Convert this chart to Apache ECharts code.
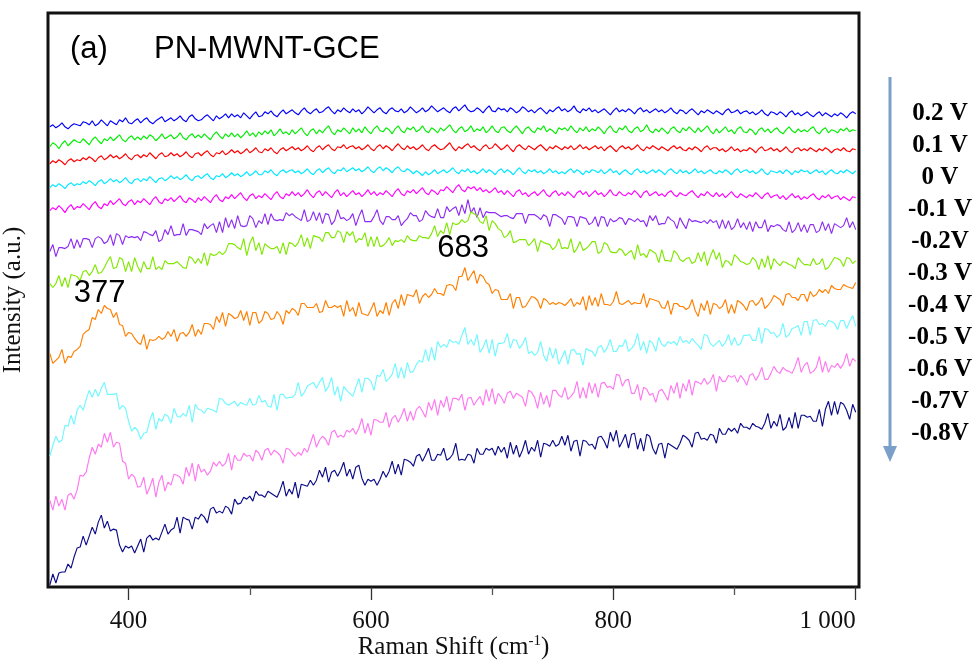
<!DOCTYPE html>
<html><head><meta charset="utf-8">
<script src="https://cdn.jsdelivr.net/npm/echarts@6/dist/echarts.min.js"></script>
<style>html,body{margin:0;padding:0;background:#fff}#c{width:977px;height:662px}</style>
</head><body><div id="c"></div>
<script>
// Raman shift (cm-1)
const ramanShift = [335,337.5,340,342.5,345,347.5,350,352.5,355,357.5,360,362.5,365,367.5,370,372.5,375,377.5,380,382.5,
385,387.5,390,392.5,395,397.5,400,402.5,405,407.5,410,412.5,415,417.5,420,422.5,425,427.5,430,432.5,
435,437.5,440,442.5,445,447.5,450,452.5,455,457.5,460,462.5,465,467.5,470,472.5,475,477.5,480,482.5,
485,487.5,490,492.5,495,497.5,500,502.5,505,507.5,510,512.5,515,517.5,520,522.5,525,527.5,530,532.5,
535,537.5,540,542.5,545,547.5,550,552.5,555,557.5,560,562.5,565,567.5,570,572.5,575,577.5,580,582.5,
585,587.5,590,592.5,595,597.5,600,602.5,605,607.5,610,612.5,615,617.5,620,622.5,625,627.5,630,632.5,
635,637.5,640,642.5,645,647.5,650,652.5,655,657.5,660,662.5,665,667.5,670,672.5,675,677.5,680,682.5,
685,687.5,690,692.5,695,697.5,700,702.5,705,707.5,710,712.5,715,717.5,720,722.5,725,727.5,730,732.5,
735,737.5,740,742.5,745,747.5,750,752.5,755,757.5,760,762.5,765,767.5,770,772.5,775,777.5,780,782.5,
785,787.5,790,792.5,795,797.5,800,802.5,805,807.5,810,812.5,815,817.5,820,822.5,825,827.5,830,832.5,
835,837.5,840,842.5,845,847.5,850,852.5,855,857.5,860,862.5,865,867.5,870,872.5,875,877.5,880,882.5,
885,887.5,890,892.5,895,897.5,900,902.5,905,907.5,910,912.5,915,917.5,920,922.5,925,927.5,930,932.5,
935,937.5,940,942.5,945,947.5,950,952.5,955,957.5,960,962.5,965,967.5,970,972.5,975,977.5,980,982.5,
985,987.5,990,992.5,995,997.5,1000];

// Intensities (a.u., with the stacking offsets of the figure)
const i_p02 = [461,463,460,462,465,461,459,462,464,463, 462,466,465,463,467,462,464,468,465,462,
467,465,463,468,466,470,465,464,467,469, 465,468,470,466,464,467,469,471,466,468,
470,467,469,472,468,466,471,473,469,467, 468,471,473,470,467,472,469,471,474,470,
474,471,473,470,475,472,469,473,476,471, 472,476,474,477,473,471,475,478,474,476,
478,475,473,477,480,476,474,477,479,475, 476,479,481,477,474,478,476,480,477,475,
479,476,478,474,477,481,478,475,478,480, 476,474,478,480,477,476,479,475,477,481,
478,475,477,480,476,478,482,479,476,478, 480,477,475,479,481,477,480,483,478,476,
477,480,478,475,479,482,477,476,480,478, 479,476,480,478,475,477,481,479,476,478,
475,478,480,477,474,478,476,479,481,477, 479,476,478,482,477,475,479,477,480,476,
478,475,477,479,476,473,477,480,476,478, 476,479,477,474,478,480,476,478,475,477,
479,476,478,475,477,480,476,474,478,477, 474,477,479,476,473,477,475,478,476,474,
477,475,473,477,479,475,476,478,474,476, 477,474,476,473,475,478,474,472,476,475,
473,476,474,471,475,477,473,475,472,474, 476,473,471,474,476,472,475,473,471,474,
472,475,473,470,474,476,474];
const i_p01 = [441,445,443,439,444,447,442,445,448,446, 445,449,446,443,448,451,447,444,449,447,
451,447,450,453,448,446,450,452,448,451, 448,452,449,453,451,447,450,454,449,451,
453,449,451,455,450,448,452,454,450,453, 450,454,451,448,453,456,452,449,454,451,
455,451,454,450,453,457,452,455,451,456, 453,457,454,458,452,455,459,454,456,453,
458,454,457,460,455,452,457,459,454,458, 455,459,462,456,453,458,456,460,457,454,
460,456,459,455,461,457,454,459,462,457, 456,460,458,454,459,462,457,455,460,458,
461,456,458,462,457,455,460,458,455,460, 457,460,463,458,455,459,461,456,458,462,
456,459,457,461,455,458,462,457,455,460, 461,457,455,459,462,458,454,459,461,457,
455,460,458,462,456,459,457,454,460,458, 460,457,462,458,455,460,457,461,456,459,
457,461,458,454,459,462,457,455,460,458, 462,457,455,459,461,456,458,463,457,455,
459,456,460,457,454,459,461,457,455,460, 457,461,458,455,460,456,459,462,457,454,
459,455,458,461,456,458,454,459,461,456, 455,459,457,453,458,460,456,459,455,458,
460,456,454,458,461,457,455,459,456,458, 456,459,461,456,454,458,460,455,458,457,
455,459,457,460,456,458,457];
const i_0 = [424,427,425,428,426,423,427,429,426,428, 427,430,428,431,429,426,430,432,428,430,
433,430,432,429,431,434,430,428,432,433, 430,433,431,435,432,429,433,435,431,432,
435,432,434,431,433,436,432,430,434,435, 432,435,437,433,431,435,434,437,433,435,
438,435,437,434,436,439,435,437,440,436, 435,439,437,440,436,434,438,440,437,439,
441,438,440,437,439,442,438,436,440,442, 438,441,443,439,437,441,440,443,439,441,
442,439,441,438,440,443,439,437,441,443, 439,442,440,437,441,444,440,438,442,439,
441,438,440,443,439,437,441,443,440,438, 439,442,445,440,437,441,439,442,444,440,
442,439,437,441,443,439,440,444,441,438, 440,443,439,436,441,443,440,438,442,440,
438,441,443,440,437,441,439,442,440,438, 441,439,442,438,440,443,439,441,438,440,
442,439,441,437,440,442,439,436,440,442, 439,441,438,440,443,439,437,441,439,442,
440,438,441,439,437,440,442,439,441,438, 437,440,438,441,439,436,440,442,438,440,
440,437,439,436,438,441,437,439,436,438, 437,440,438,435,439,441,437,438,440,437,
439,436,438,441,437,435,439,440,437,439, 437,440,438,436,439,437,440,438,435,438,
439,437,440,437,436,439,438];
const i_m01 = [400,403,401,404,402,399,403,405,402,404, 403,406,404,407,405,402,406,408,404,406,
409,406,408,405,407,410,406,404,408,409, 406,409,407,411,408,405,409,410,407,409,
412,409,411,408,410,413,409,407,411,412, 409,412,414,410,408,412,411,414,410,412,
415,412,414,411,413,416,412,414,417,413, 413,417,415,418,414,412,416,418,415,417,
418,415,417,414,416,419,415,413,417,419, 415,418,420,416,414,418,417,420,416,418,
420,417,419,416,418,421,417,415,419,421, 417,420,418,415,419,421,417,416,419,417,
414,417,415,412,416,413,415,418,414,416, 418,415,417,420,416,414,418,416,419,415,
417,414,416,419,415,418,416,413,417,419, 415,418,416,413,417,420,416,414,418,416,
418,415,417,414,416,419,415,417,414,416, 414,417,419,415,418,416,413,417,415,418,
417,415,418,414,416,419,415,417,413,416, 418,415,413,417,419,415,417,414,416,418,
415,418,416,413,417,419,416,414,418,415, 417,414,416,419,415,417,414,416,418,415,
414,417,415,418,416,413,417,419,415,417, 418,415,417,414,416,419,415,413,417,416,
415,417,414,418,416,413,417,415,418,416, 417,414,416,418,415,417,413,416,418,415,
414,417,415,418,416,414,417];
const i_m02 = [377,380,378,382,379,375,380,383,378,381, 380,384,381,378,383,386,381,379,384,382,
387,383,386,389,384,382,386,388,383,387, 385,389,386,383,388,391,386,384,389,387,
390,386,389,392,387,385,390,388,385,390, 387,391,388,385,390,393,388,386,391,389,
393,389,392,395,390,387,392,394,389,392, 390,394,391,388,393,396,391,389,394,392,
396,392,395,391,394,398,393,390,395,397, 392,396,393,390,395,398,392,395,391,394,
397,393,395,391,394,398,393,396,392,395, 393,397,394,391,396,399,394,392,397,395,
398,394,397,400,395,393,398,396,393,398, 397,401,398,395,400,403,398,396,401,399,
401,397,400,396,398,395,397,400,395,397, 393,397,394,391,396,398,393,395,391,394,
396,392,395,398,393,391,395,397,392,395, 392,396,393,390,395,397,393,396,391,394,
397,393,395,391,394,398,393,392,396,393, 392,395,393,397,394,390,395,397,392,394,
396,392,394,391,395,397,393,391,395,393, 392,395,397,393,390,394,392,396,393,391,
395,391,394,390,393,396,392,390,394,392, 390,393,391,395,392,389,393,395,390,392,
393,389,392,388,391,394,390,392,388,391, 389,392,394,390,388,392,390,393,389,391,
392,388,391,389,387,391,390];
const i_m03 = [336,343,331,340,340,339,341,349,339,348, 340,349,349,348,340,349,351,349,344,346,
353,342,354,352,343,352,350,351,350,351, 347,356,355,353,352,357,346,348,358,353,
362,352,353,353,364,352,358,358,357,356, 353,364,359,362,364,355,366,355,370,360,
368,359,372,362,361,362,372,369,360,367, 364,374,363,374,368,367,368,367,375,372,
374,371,369,367,378,366,368,376,367,375, 364,374,373,363,367,378,369,370,367,369,
374,362,371,378,366,366,366,371,378,367, 363,371,371,368,368,372,362,366,369,375,
372,372,366,368,377,373,371,370,379,370, 370,381,376,379,381,372,383,374,388,375,
380,370,380,370,376,375,375,375,373,371, 372,372,370,369,374,374,374,364,373,373,
373,371,368,373,371,361,373,373,371,369, 363,371,371,370,361,371,370,369,363,365,
371,361,371,370,361,369,366,367,370,369, 363,369,368,366,369,366,367,361,372,367,
372,363,364,364,371,368,366,359,370,364, 359,369,366,367,366,365,367,364,368,365,
367,359,368,359,367,358,361,369,360,365, 358,366,356,366,360,360,368,356,362,361,
363,362,358,356,366,355,358,365,356,363, 355,363,363,355,357,366,357,364,354,364,
362,360,362,370,360,366,358];
const i_m04 = [304,300,304,312,301,310,300,313,312,311, 307,316,317,312,316,323,314,315,320,326,
331,319,320,330,328,316,326,316,330,321, 315,326,319,319,331,318,321,318,327,324,
324,324,326,323,320,319,331,329,324,329, 324,335,322,334,332,333,336,333,336,344,
344,343,340,338,349,332,344,351,337,345, 333,344,341,339,339,341,334,345,333,345,
344,341,345,353,341,350,339,352,351,350, 346,355,355,350,350,357,355,345,356,352,
356,345,349,348,355,341,351,341,351,341, 342,345,350,342,347,346,348,345,352,348,
347,347,352,350,350,349,354,362,351,357, 354,365,353,365,363,364,368,365,367,376,
374,372,366,364,372,357,367,364,359,357, 350,352,357,345,346,348,348,348,342,345,
349,336,347,345,344,343,338,341,349,339, 340,339,349,335,339,346,337,339,342,346,
346,334,336,345,343,336,335,335,339,337, 332,335,337,328,343,332,334,330,338,336,
334,325,338,327,327,326,337,334,328,326, 329,330,324,326,335,326,336,322,331,338,
328,335,320,327,326,322,333,330,326,325, 323,324,330,327,318,329,320,332,318,329,
325,322,326,325,323,322,319,330,326,323, 323,322,329,323,324,329,318,320,325,330,
329,327,321,330,329,324,327];
const i_m05 = [234,224,227,230,238,224,231,230,236,238, 241,253,256,258,270,268,278,274,282,279,
278,270,275,263,262,251,255,254,249,245, 243,253,238,248,247,248,251,248,250,256,
251,258,246,254,255,251,255,263,251,258, 253,264,264,263,258,271,265,275,261,274,
272,269,270,277,267,276,262,275,275,264, 267,276,274,268,269,276,272,263,277,274,
279,277,272,284,284,280,280,280,284,275, 276,287,280,280,282,280,282,271,287,276,
280,271,285,274,273,272,278,285,271,277, 274,285,272,284,288,279,293,282,293,292,
291,298,284,291,294,290,293,299,294,294, 292,302,303,302,297,311,311,320,307,312,
317,304,313,311,305,303,294,298,297,288, 288,288,294,279,290,290,280,281,286,291,
290,287,279,289,287,283,285,283,285,284, 282,285,289,281,285,283,291,277,292,282,
290,281,294,283,283,282,286,296,284,283, 285,287,283,285,284,284,294,280,289,288,
287,286,280,279,287,273,284,284,281,281, 278,280,288,277,271,284,277,287,273,284,
283,279,281,288,274,283,274,287,285,282, 277,286,287,282,285,290,279,282,286,292,
290,288,282,293,294,290,290,287,293,293, 286,296,291,293,298,295,298,294,302,299,
298,298,303,301,300,299,305];
const i_m06 = [131,142,151,145,147,162,161,172,163,177, 182,177,188,197,190,198,191,199,205,193,
193,193,194,178,182,179,166,156,160,157, 148,154,155,167,175,158,169,166,173,171,
164,179,171,170,174,171,182,165,183,178, 177,174,179,178,177,175,189,188,184,182,
184,186,181,185,183,182,189,182,183,192, 185,187,181,180,193,177,193,193,189,190,
190,193,205,191,195,201,203,205,199,205, 210,196,201,210,192,201,186,201,197,194,
191,200,209,195,209,209,206,197,212,211, 218,206,209,213,224,209,220,209,225,215,
216,223,227,225,238,226,240,227,246,240, 243,240,248,245,246,243,252,260,243,248,
242,253,235,240,248,234,248,231,244,244, 245,254,239,248,247,239,243,250,234,236,
232,235,246,232,226,240,229,239,223,230, 237,223,237,238,233,234,222,239,237,236,
231,240,242,235,240,248,236,236,242,241, 248,236,239,243,254,237,246,234,247,244,
236,250,243,241,246,244,246,242,251,245, 247,244,249,245,242,238,253,252,244,241,
244,247,241,245,253,242,250,242,244,252, 252,253,247,247,260,244,259,258,254,255,
250,253,264,250,253,259,260,262,252,266, 266,252,267,268,263,264,261,267,266,264,
258,267,267,259,266,272,261];
const i_m07 = [87,77,91,81,88,77,92,94,88,97, 112,111,115,129,140,133,143,140,154,145,
155,140,145,144,126,124,108,113,110,100, 101,110,93,100,109,90,105,112,96,105,
102,113,112,110,103,120,111,124,106,123, 115,118,112,116,125,121,126,121,124,134,
117,132,127,127,134,131,132,126,137,134, 127,137,139,132,137,135,132,124,139,138,
134,131,135,132,139,135,144,153,140,147, 151,148,142,155,157,150,152,150,157,155,
159,153,159,169,154,164,152,168,167,165, 165,175,160,169,172,165,171,179,166,176,
167,178,181,176,170,185,177,188,172,187, 180,191,176,189,189,187,193,177,189,190,
182,187,191,182,198,186,199,183,194,190, 184,194,196,189,194,192,190,181,197,195,
190,179,195,183,192,180,197,197,192,190, 200,188,191,195,206,189,200,189,205,194,
204,190,204,205,200,201,198,213,212,201, 207,208,194,194,203,187,200,198,192,194,
185,196,198,193,187,202,194,205,189,204, 196,208,192,206,205,203,209,203,206,213,
196,211,206,206,212,210,212,205,212,208, 202,212,214,207,212,220,208,208,214,221,
216,214,220,217,216,214,221,230,215,222, 225,214,216,220,231,215,226,215,222,220,
224,219,224,234,221,229,226];
const i_m08 = [2,13,4,14,15,15,23,19,30,39, 40,51,42,51,60,53,65,72,59,66,
56,58,57,42,35,41,39,41,34,41, 48,35,49,52,47,49,47,55,63,53,
57,59,70,54,70,68,67,58,70,68, 73,70,64,78,80,74,76,74,81,79,
73,88,83,84,90,88,91,86,96,92, 92,90,96,94,92,90,97,106,91,98,
93,105,89,103,102,101,107,102,107,117, 110,120,105,115,117,111,117,125,111,118,
108,120,122,109,102,108,106,108,102,108, 116,110,116,126,113,123,112,128,127,125,
121,131,133,126,132,139,127,127,133,132, 139,127,129,133,144,127,128,127,133,132,
124,139,133,133,139,137,139,132,141,135, 140,129,145,133,142,130,137,147,133,140,
136,147,130,144,143,141,147,141,143,151, 142,152,136,146,147,131,147,146,142,143,
138,150,151,146,139,155,146,157,140,146, 153,139,153,154,138,149,136,153,151,139,
133,143,144,129,144,142,140,138,144,152, 150,147,140,154,155,148,149,147,153,152,
144,159,153,153,159,156,159,154,164,160, 160,158,164,161,160,158,164,174,159,166,
161,173,157,160,170,159,175,159,172,172, 170,171,166,166,178,161,178,186,172,186,
173,185,183,177,168,183,175];

const potentials = ['0.2 V','0.1 V','0 V','-0.1 V','-0.2V','-0.3 V','-0.4 V','-0.5 V','-0.6 V','-0.7V','-0.8V'];
const spectra = [i_p02,i_p01,i_0,i_m01,i_m02,i_m03,i_m04,i_m05,i_m06,i_m07,i_m08];
const colors = ['#0000ff','#00ee00','#ff0000','#00e8ff','#ff00ff','#8c2cf2','#80e800','#ff8000','#70f8ff','#ff78f0','#0c0c88'];

const xMajorLabels = [400,600,800];
const xEndLabel = [1000];
const xMajorTicks = [400,600,800,1000];
const xMinorTicks = [500,700,900];
const peakNotes = [{text:'377', at:[376,294]}, {text:'683', at:[676,339]}];

const serif = '"Liberation Serif","Times New Roman",serif';
const sans = '"Liberation Sans",Arial,sans-serif';
const fmt = v => String(v).replace(/\B(?=(\d{3})+(?!\d))/g, ' ');

const chart = echarts.init(document.getElementById('c'), null, {renderer:'canvas'});

const series = spectra.map((arr, k) => {
  const s = {
    name: potentials[k], type: 'line', showSymbol: false, symbol: 'none',
    data: arr.map((v, i) => [ramanShift[i], v]),
    lineStyle: {color: colors[k], width: 1.15},
    itemStyle: {color: colors[k]},
    animation: false, silent: true, z: 2
  };
  if (k === 7) {
    s.markPoint = {
      symbol: 'circle', symbolSize: 1, itemStyle: {color: 'transparent'},
      silent: true, animation: false,
      label: {show: true, position: 'inside', color: '#000', fontFamily: sans, fontSize: 31},
      data: peakNotes.map(p => ({coord: p.at, value: p.text, label: {formatter: p.text}}))
    };
  }
  return s;
});

const legendGraphics = [
  {type:'line', shape:{x1:890, y1:77, x2:890, y2:450}, style:{stroke:'#7aa0c9', lineWidth:3}},
  {type:'polygon', shape:{points:[[883,446],[897,446],[890,462]]}, style:{fill:'#7aa0c9'}}
].concat(potentials.map((p, i) => ({
  type:'text', x:940, y:114 + i*32,
  style:{text:p, fill:'#000', font:'bold 25px ' + serif, align:'center', verticalAlign:'middle'}
}))).concat([
  {type:'text', x:70, y:49, style:{text:'(a)', fill:'#000', font:'31px ' + sans, verticalAlign:'middle'}},
  {type:'text', x:154, y:49, style:{text:'PN-MWNT-GCE', fill:'#000', font:'31px ' + sans, verticalAlign:'middle'}}
]);

chart.setOption({
  animation: false,
  backgroundColor: '#fff',
  grid: {left:48, top:13, width:811, height:574, show:true, borderColor:'#111', borderWidth:3,
         backgroundColor:'transparent', containLabel:false, outerBoundsMode:'none'},
  xAxis: [{
    type:'value', min:333.5, max:1002.7, position:'bottom',
    axisLine:{show:false}, splitLine:{show:false},
    axisTick:{show:true, length:13, customValues:xMajorTicks, lineStyle:{color:'#333', width:1.3}},
    axisLabel:{show:true, customValues:xMajorLabels, formatter:fmt, fontFamily:serif, fontSize:25, color:'#111', margin:22},
    name:'Raman Shift (cm{sup|-1})', nameLocation:'middle', nameGap:47, nameMoveOverlap:false,
    nameTextStyle:{fontFamily:serif, fontSize:25, color:'#111', rich:{sup:{fontFamily:serif, fontSize:15, color:'#111', verticalAlign:'top', padding:[0,0,12,0]}}}
  },{
    type:'value', min:333.5, max:1002.7, position:'bottom',
    axisLine:{show:false}, splitLine:{show:false},
    axisTick:{show:true, length:8, customValues:xMinorTicks, lineStyle:{color:'#555', width:1.3}},
    axisLabel:{show:true, customValues:xEndLabel, formatter:fmt, fontFamily:serif, fontSize:25, color:'#111', margin:22, align:'right'}
  }],
  yAxis: {
    type:'value', min:0, max:575,
    axisLine:{show:false}, axisTick:{show:false}, axisLabel:{show:false}, splitLine:{show:false},
    name:'Intensity (a.u.)', nameLocation:'middle', nameGap:22, nameMoveOverlap:false,
    nameTextStyle:{fontFamily:serif, fontSize:25, color:'#111'}
  },
  graphic: legendGraphics,
  series: series
});
</script></body></html>
